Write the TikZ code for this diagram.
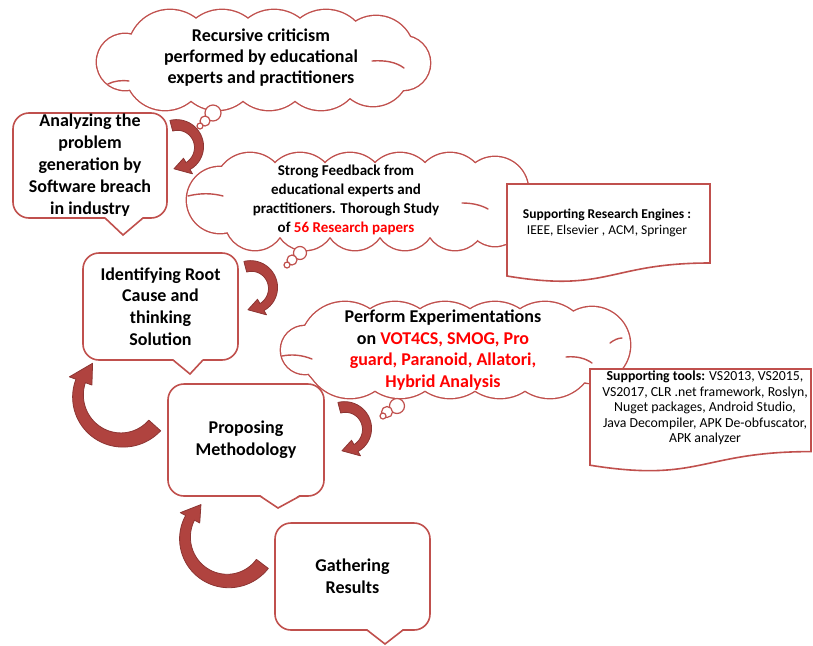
\documentclass[tikz,border=0pt]{standalone}
\usepackage{fontspec}
\setmainfont{Carlito}
\definecolor{cred}{HTML}{C0504D}
\definecolor{ared}{HTML}{B0433F}
\definecolor{adark}{HTML}{8C3533}
\definecolor{tred}{HTML}{FF0000}
\tikzset{
  callbox/.style={draw=cred, line width=1.6pt, rounded corners=16pt, fill=white,
    align=center, inner sep=0pt, font=\fontsize{18}{21.8}\selectfont\bfseries},
  lobeline/.style={draw=cred, line width=2.8pt},
  innerline/.style={draw=cred, line width=1.4pt, line cap=round},
  cloudtext/.style={align=center, inner sep=0pt},
  bubble/.style={circle, draw=cred, line width=1.2pt, fill=white, inner sep=0pt},
  docshape/.style={draw=cred, line width=1.6pt, fill=white},
  doctext/.style={align=center, inner sep=0pt, font=\fontsize{13.8}{15.6}\selectfont},
  arrowshape/.style={fill=ared, draw=adark, line width=0.8pt, line join=round},
}
% cloud as union of lobes: #1 list x/y/r, #2 core path
\newcommand{\cloudlobes}[2]{%
  \foreach \lx/\ly/\lr in {#1} {\path[lobeline] (\lx,\ly) circle[radius=\lr];}
  \foreach \lx/\ly/\lr in {#1} {\fill[white] (\lx,\ly) circle[radius=\lr];}
  \fill[white] #2;}
% curved block arrow: cx, cy, R, a1, a2, w1, w2, head width, head angle
\newcommand{\carrow}[9]{%
  \path[arrowshape]
    plot[domain=#4:#5, samples=40, variable=\t]
      ({#1+(#3+(#6+((#7)-(#6))*(\t-(#4))/((#5)-(#4)))/2)*cos(\t)},
       {#2+(#3+(#6+((#7)-(#6))*(\t-(#4))/((#5)-(#4)))/2)*sin(\t)})
    -- ({#1+(#3+(#8)/2)*cos(#5)}, {#2+(#3+(#8)/2)*sin(#5)})
    -- ({#1+(#3)*cos(#5+(#9))}, {#2+(#3)*sin(#5+(#9))})
    -- ({#1+(#3-(#8)/2)*cos(#5)}, {#2+(#3-(#8)/2)*sin(#5)})
    -- plot[domain=#5:#4, samples=40, variable=\t]
      ({#1+(#3-(#6+((#7)-(#6))*(\t-(#4))/((#5)-(#4)))/2)*cos(\t)},
       {#2+(#3-(#6+((#7)-(#6))*(\t-(#4))/((#5)-(#4)))/2)*sin(\t)})
    -- cycle;}
% callout tail: x1, ybase, xtip, ytip, x2
\newcommand{\calltail}[5]{%
  \fill[white] (#1-1,#2-2) -- (#3,#4) -- (#5+1,#2-2) -- cycle;
  \draw[cred, line width=1.6pt] (#1,#2) -- (#3,#4) -- (#5,#2);}
\begin{document}
\begin{tikzpicture}[x=1pt, y=-1pt]
\useasboundingbox (0,0) rectangle (813,645);

% ---- cloud 1 ----
\cloudlobes{125/62/28, 403/63/27,
  170/52/42, 222/52/42, 274/52/42, 326/52/42, 376/54/38,
  165/70/40, 217/70/40, 269/70/40, 321/70/40, 373/70/36}
  {(263,61) ellipse[x radius=130, y radius=30]}
\draw[innerline] (108,84) .. controls (114,81) and (121,80) .. (129,81);
\draw[innerline] (372,61) .. controls (385,60) and (396,62) .. (404,68);
\node[bubble, minimum size=16pt] (c1b1) at (213,113) {};
\node[bubble, minimum size=10pt] (c1b2) at (205,121) {};
\node[bubble, minimum size=6pt]  (c1b3) at (200,126) {};
\node[cloudtext, font=\fontsize{18}{21}\selectfont\bfseries] (c1t) at (261,58)
  {Recursive criticism\\performed by educational\\experts and practitioners};

% ---- cloud 2 ----
\cloudlobes{220/200/33, 505/205/30,
  250/188/35, 300/188/35, 350/188/35, 400/188/35, 450/188/35, 495/190/33,
  255/220/30, 305/220/30, 355/220/30, 405/220/30, 455/220/30, 495/218/28}
  {(357,203) ellipse[x radius=150, y radius=30]}
\draw[innerline] (188,196) .. controls (200,193) and (212,193) .. (223,196);
\draw[innerline] (462,203) .. controls (472,203) and (481,205) .. (488,209);
\node[bubble, minimum size=13pt] (c2b1) at (300,253) {};
\node[bubble, minimum size=10pt] (c2b2) at (292,260) {};
\node[bubble, minimum size=6pt]  (c2b3) at (287,265) {};
\node[cloudtext, font=\fontsize{15}{18.8}\selectfont\bfseries] (c2t) at (346,200)
  {Strong Feedback from\\educational experts and\\practitioners. Thorough Study\\of \textcolor{tred}{56 Research papers}};

% ---- cloud 3 ----
\cloudlobes{305/350/24, 592/345/38,
  345/347/45, 395/347/45, 445/347/45, 495/347/45, 545/347/45,
  350/353/45, 400/353/45, 450/353/45, 500/353/45, 550/353/45}
  {(457,350) ellipse[x radius=140, y radius=30]}
\draw[innerline] (282,356) .. controls (292,354) and (302,355) .. (312,359);
\draw[innerline] (566,357) .. controls (576,356) and (585,358) .. (592,363);
\draw[innerline] (610,343) .. controls (614,340) and (618,338) .. (622,338);
\node[bubble, minimum size=15pt] (c3b1) at (397,406) {};
\node[bubble, minimum size=11pt] (c3b2) at (387,412) {};
\node[bubble, minimum size=6pt]  (c3b3) at (383,416) {};
\node[cloudtext, font=\fontsize{18}{21.7}\selectfont\bfseries] (c3t) at (443,350)
  {Perform Experimentations\\on \textcolor{tred}{VOT4CS, SMOG, Pro}\\\textcolor{tred}{guard, Paranoid, Allatori,}\\\textcolor{tred}{Hybrid Analysis}};

% ---- documents ----
\draw[docshape] (507,184) -- (710,184) -- (710,263)
  .. controls (608.5,263) and (608.5,293) .. (507,276) -- cycle;
\node[doctext, font=\fontsize{13.5}{16}\selectfont] (d1t) at (607,223)
  {\textbf{Supporting Research Engines :}\\IEEE, Elsevier , ACM, Springer};

\draw[docshape] (590,369) -- (811,369) -- (811,451.6)
  .. controls (700.5,451.6) and (700.5,483) .. (590,465.2) -- cycle;
\node[doctext] (d2t) at (705,408)
  {\textbf{Supporting tools:} VS2013, VS2015,\\VS2017, CLR .net framework, Roslyn,\\Nuget packages, Android Studio,\\Java Decompiler, APK De-obfuscator,\\APK analyzer};

% ---- callout boxes ----
\node[callbox, minimum width=154pt, minimum height=105pt] (b1) at (90,165.5)
  {Analyzing the\\problem\\generation by\\Software breach\\in industry};
\calltail{105}{218}{123}{235}{143}

\node[callbox, minimum width=155pt, minimum height=107pt] (b2) at (160.5,306.5)
  {Identifying Root\\Cause and\\thinking\\Solution};
\calltail{173}{360}{190}{374}{203}

\node[callbox, minimum width=156pt, minimum height=112pt] (b3) at (246,440)
  {Proposing\\Methodology};
\calltail{260}{496}{278}{508}{300}

\node[callbox, minimum width=155pt, minimum height=107pt] (b4) at (352.5,576.5)
  {Gathering\\Results};
\calltail{367}{630}{385}{644}{403}

% ---- curved arrows ----
\carrow{177}{147}{22}{-105}{60}{11}{8}{18}{38}
\carrow{251}{288}{22}{-105}{60}{11}{8}{18}{38}
\carrow{345}{429}{22}{-105}{60}{11}{8}{18}{38}
\carrow{122}{396}{44}{42}{200}{16}{10}{24}{28}
\carrow{228}{538}{43}{37}{208}{15}{10}{22}{23}
\end{tikzpicture}
\end{document}
